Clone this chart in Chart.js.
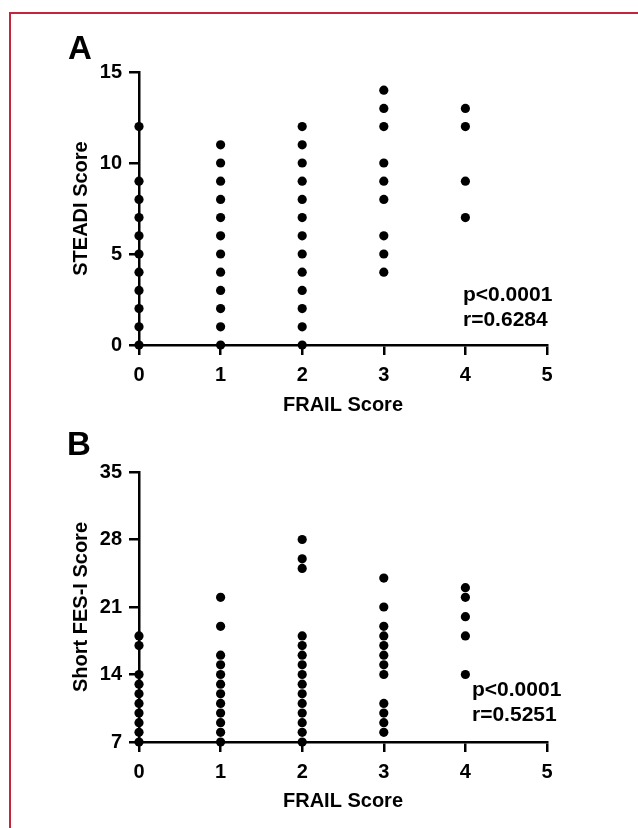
<!DOCTYPE html>
<html>
<head>
<meta charset="utf-8">
<script src="https://cdn.jsdelivr.net/npm/chart.js@4.4.1/dist/chart.umd.min.js"></script>
<style>
  html, body { margin: 0; padding: 0; background: #fff; }
  body { width: 638px; height: 828px; position: relative; overflow: hidden; font-family: 'Liberation Sans', Arial, sans-serif; }
  .frame { position: absolute; left: 9px; top: 12px; width: 700px; height: 900px; border-top: 2px solid #c3263b; border-left: 2px solid #c3263b; }
  .panel { position: absolute; left: 0; width: 638px; }
  .letter { position: absolute; font-weight: bold; font-size: 33px; line-height: 32px; color: #000; }
  .stats { position: absolute; font-weight: bold; font-size: 21px; line-height: 25px; color: #000; white-space: nowrap; }
</style>
</head>
<body>
<div class="frame"></div>
<div class="panel" style="top:0;height:420px"><canvas id="chartA"></canvas></div>
<div class="panel" style="top:420px;height:408px"><canvas id="chartB"></canvas></div>
<div class="letter" style="left:68px;top:32px">A</div>
<div class="letter" style="left:67px;top:428px">B</div>
<div class="stats" style="left:463px;top:281px">p&lt;0.0001<br>r=0.6284</div>
<div class="stats" style="left:472px;top:676px">p&lt;0.0001<br>r=0.5251</div>
<script>
// FRAIL score groups (x) and the scores observed in each group
var frailScores = [0, 1, 2, 3, 4];

// Panel A: STEADI score
var steadiFrail0 = [0, 1, 2, 3, 4, 5, 6, 7, 8, 9, 12];
var steadiFrail1 = [0, 1, 2, 3, 4, 5, 6, 7, 8, 9, 10, 11];
var steadiFrail2 = [0, 1, 2, 3, 4, 5, 6, 7, 8, 9, 10, 11, 12];
var steadiFrail3 = [4, 5, 6, 8, 9, 10, 12, 13, 14];
var steadiFrail4 = [7, 9, 12, 13];

// Panel B: Short FES-I score
var fesFrail0 = [7, 8, 9, 10, 11, 12, 13, 14, 17, 18];
var fesFrail1 = [7, 8, 9, 10, 11, 12, 13, 14, 15, 16, 19, 22];
var fesFrail2 = [7, 8, 9, 10, 11, 12, 13, 14, 15, 16, 17, 18, 25, 26, 28];
var fesFrail3 = [8, 9, 10, 11, 14, 15, 16, 17, 18, 19, 21, 24];
var fesFrail4 = [14, 18, 20, 22, 23];

var xTicks = [0, 1, 2, 3, 4, 5];
var steadiTicks = [0, 5, 10, 15];
var fesTicks = [7, 14, 21, 28, 35];

Chart.defaults.font.family = "'Liberation Sans', Arial, sans-serif";
Chart.defaults.color = '#000';

function toPoints(groups) {
    var pts = [];
    groups.forEach(function(vals, i) {
        vals.forEach(function(v) {
            pts.push({ x: frailScores[i], y: v });
        });
    });
    return pts;
}

function makeChart(id, groups, yTicks, yTitle, box) {
    var ctx = document.getElementById(id).getContext('2d');
    return new Chart(ctx, {
        type: 'scatter',
        data: {
            datasets: [{
                data: toPoints(groups),
                backgroundColor: '#000',
                borderColor: '#000',
                pointRadius: 4.6,
                pointHoverRadius: 4.6,
                borderWidth: 0,
                clip: false
            }]
        },
        options: {
            responsive: true,
            maintainAspectRatio: false,
            animation: false,
            events: [],
            layout: {
                padding: { left: 0, top: box.top, right: 91, bottom: 0 }
            },
            plugins: {
                legend: { display: false },
                tooltip: { enabled: false }
            },
            scales: {
                x: {
                    type: 'linear',
                    min: xTicks[0],
                    max: xTicks[xTicks.length - 1],
                    afterBuildTicks: function(scale) {
                        scale.ticks = xTicks.map(function(v) { return { value: v }; });
                    },
                    afterFit: function(scale) { scale.height = box.xHeight; },
                    grid: {
                        drawOnChartArea: false,
                        drawTicks: true,
                        tickLength: 10,
                        color: '#000',
                        lineWidth: 2.5
                    },
                    border: { color: '#000', width: 2.5 },
                    ticks: {
                        padding: 8,
                        color: '#000',
                        font: { size: 20, weight: 'bold' }
                    },
                    title: {
                        display: true,
                        text: 'FRAIL Score',
                        color: '#000',
                        font: { size: 20, weight: 'bold' },
                        padding: { top: 0, bottom: box.xTitlePad }
                    }
                },
                y: {
                    type: 'linear',
                    min: yTicks[0],
                    max: yTicks[yTicks.length - 1],
                    afterBuildTicks: function(scale) {
                        scale.ticks = yTicks.map(function(v) { return { value: v }; });
                    },
                    afterFit: function(scale) { scale.width = 139; },
                    grid: {
                        drawOnChartArea: false,
                        drawTicks: true,
                        tickLength: 10,
                        color: '#000',
                        lineWidth: 2.5
                    },
                    border: { color: '#000', width: 2.5 },
                    ticks: {
                        padding: 7,
                        color: '#000',
                        font: { size: 20, weight: 'bold' }
                    },
                    title: {
                        display: true,
                        text: yTitle,
                        color: '#000',
                        font: { size: 20, weight: 'bold' },
                        padding: { top: 69, bottom: 0 }
                    }
                }
            }
        }
    });
}

makeChart('chartA',
    [steadiFrail0, steadiFrail1, steadiFrail2, steadiFrail3, steadiFrail4],
    steadiTicks, 'STEADI Score',
    { top: 72, xHeight: 75, xTitlePad: 3 });

makeChart('chartB',
    [fesFrail0, fesFrail1, fesFrail2, fesFrail3, fesFrail4],
    fesTicks, 'Short FES-I Score',
    { top: 52, xHeight: 86, xTitlePad: 15 });
</script>
</body>
</html>
